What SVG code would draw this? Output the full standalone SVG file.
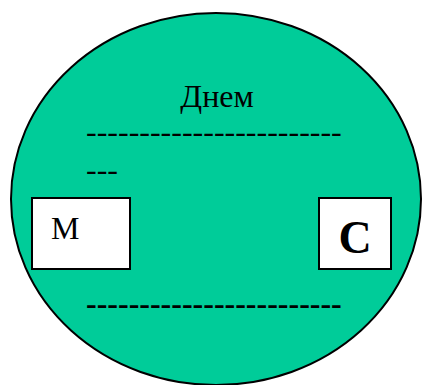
<svg xmlns="http://www.w3.org/2000/svg" width="422" height="385" viewBox="0 0 422 385">
<style>
.t{font-family:"Liberation Serif","Times New Roman",serif;fill:#000}
.box{fill:#fff;stroke:#000;stroke-width:2}
</style>
<rect width="422" height="385" fill="#fff"/>
<g id="circle">
<ellipse cx="216" cy="199" rx="205" ry="186" fill="#00CC99" stroke="#000" stroke-width="2"/>
<text class="t" x="217" y="107" font-size="32" text-anchor="middle">Днем</text>
<text class="t" x="86" y="142" font-size="32">------------------------</text>
<text class="t" x="86" y="180" font-size="32">---</text>
<text class="t" x="86" y="314" font-size="32" font-weight="bold">------------------------</text>
</g>
<g id="M">
<rect class="box" x="32" y="198" width="98" height="71"/>
<text class="t" x="51" y="239" font-size="32">M</text>
</g>
<g id="C">
<rect class="box" x="319" y="198" width="72" height="71"/>
<text class="t" x="355" y="253" font-size="46" font-weight="bold" text-anchor="middle">C</text>
</g>
<g id="connectors"/>
</svg>
